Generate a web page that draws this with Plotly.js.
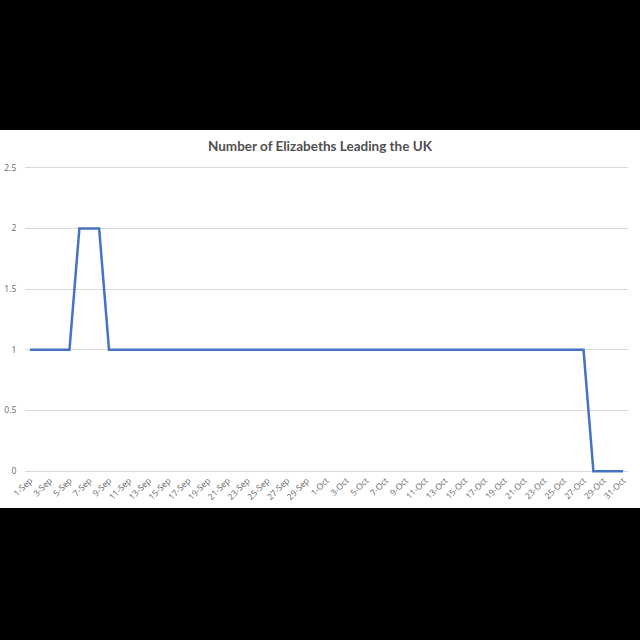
<!DOCTYPE html>
<html>
<head>
<meta charset="utf-8">
<script src="https://cdn.plot.ly/plotly-3.0.1.min.js"></script>
<style>
  html, body { margin: 0; padding: 0; background: #000; }
  #chart { position: absolute; left: 0; top: 130px; width: 640px; height: 378px; }
</style>
</head>
<body>
<div id="chart"></div>
<script>
var days = [
  '1-Sep','2-Sep','3-Sep','4-Sep','5-Sep','6-Sep','7-Sep','8-Sep','9-Sep','10-Sep',
  '11-Sep','12-Sep','13-Sep','14-Sep','15-Sep','16-Sep','17-Sep','18-Sep','19-Sep','20-Sep',
  '21-Sep','22-Sep','23-Sep','24-Sep','25-Sep','26-Sep','27-Sep','28-Sep','29-Sep','30-Sep',
  '1-Oct','2-Oct','3-Oct','4-Oct','5-Oct','6-Oct','7-Oct','8-Oct','9-Oct','10-Oct',
  '11-Oct','12-Oct','13-Oct','14-Oct','15-Oct','16-Oct','17-Oct','18-Oct','19-Oct','20-Oct',
  '21-Oct','22-Oct','23-Oct','24-Oct','25-Oct','26-Oct','27-Oct','28-Oct','29-Oct','30-Oct',
  '31-Oct'
];
var elizabeths = [
  1,1,1,1,1,2,2,2,1,1,
  1,1,1,1,1,1,1,1,1,1,
  1,1,1,1,1,1,1,1,1,1,
  1,1,1,1,1,1,1,1,1,1,
  1,1,1,1,1,1,1,1,1,1,
  1,1,1,1,1,1,1,0,0,0,
  0
];
var yTicks = [0, 0.5, 1, 1.5, 2, 2.5];
var yTickText = ['0', '0.5', '1', '1.5', '2', '2.5'];

// every other day gets a label, like the original
var shownDays = days.filter(function (d, i) { return i % 2 == 0; });

var data = [{
  x: days,
  y: elizabeths,
  type: 'scatter',
  mode: 'lines',
  line: {color: '#4472C4', width: 2.5},
  hoverinfo: 'skip',
  cliponaxis: false
}];

var layout = {
  width: 640,
  height: 378,
  margin: {l: 25, r: 12, t: 36, b: 35},
  paper_bgcolor: '#ffffff',
  plot_bgcolor: '#ffffff',
  showlegend: false,
  font: {family: 'Open Sans, Liberation Sans, sans-serif', color: '#595959'},
  title: {
    text: '<b>Number of Elizabeths Leading the UK</b>',
    font: {size: 13.5, color: '#505050', family: 'Lato, sans-serif'},
    x: 0.5,
    xanchor: 'center',
    y: 0.956,
    yanchor: 'middle'
  },
  xaxis: {
    type: 'category',
    categoryorder: 'array',
    categoryarray: days,
    range: [-0.5, 60.5],
    tickmode: 'array',
    tickvals: shownDays,
    ticktext: shownDays,
    tickangle: -45,
    tickfont: {size: 8.5, color: '#666666'},
    showgrid: false,
    zeroline: false,
    showline: false,
    ticks: ''
  },
  yaxis: {
    range: [-0.015, 2.515],
    tickmode: 'array',
    tickvals: yTicks,
    ticktext: yTickText,
    tickfont: {size: 8.5, color: '#666666'},
    gridcolor: '#d9d9d9',
    gridwidth: 1,
    zeroline: false,
    showline: false,
    ticks: 'outside',
    ticklen: 6,
    tickcolor: 'rgba(0,0,0,0)'
  }
};

Plotly.newPlot('chart', data, layout, {staticPlot: true, displayModeBar: false});
</script>
</body>
</html>
